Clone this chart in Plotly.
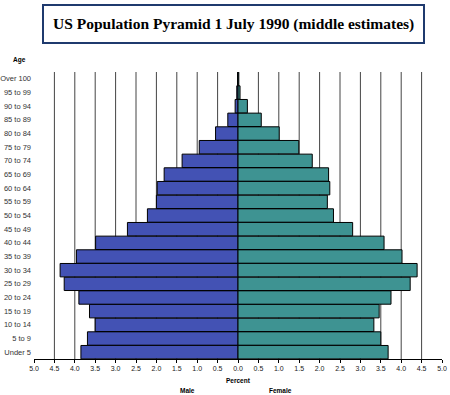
import plotly.graph_objects as go

age_groups = ["Under 5", "5 to 9", "10 to 14", "15 to 19", "20 to 24", "25 to 29",
              "30 to 34", "35 to 39", "40 to 44", "45 to 49", "50 to 54", "55 to 59",
              "60 to 64", "65 to 69", "70 to 74", "75 to 79", "80 to 84", "85 to 89",
              "90 to 94", "95 to 99", "Over 100"]
male_pct = [3.85, 3.69, 3.50, 3.64, 3.90, 4.26, 4.36, 3.96, 3.49, 2.71, 2.22, 2.00,
            1.98, 1.81, 1.37, 0.95, 0.55, 0.25, 0.07, 0.03, 0.01]
female_pct = [3.68, 3.50, 3.33, 3.46, 3.75, 4.22, 4.39, 4.02, 3.58, 2.81, 2.34, 2.19,
              2.25, 2.22, 1.82, 1.49, 1.01, 0.57, 0.23, 0.05, 0.02]
tick_vals = [i * 0.5 for i in range(-10, 11)]
tick_text = ["%.1f" % abs(v) for v in tick_vals]

fig = go.Figure()
fig.add_trace(go.Bar(y=age_groups, x=[-v for v in male_pct], orientation="h",
                     name="Male", marker=dict(color="#4352B4", line=dict(color="#000000", width=1))))
fig.add_trace(go.Bar(y=age_groups, x=female_pct, orientation="h",
                     name="Female", marker=dict(color="#3E9392", line=dict(color="#000000", width=1))))

shapes = []
for v in tick_vals:
    if v == 0 or abs(v) == 5:
        continue
    shapes.append(dict(type="line", xref="x", yref="paper", x0=v, x1=v, y0=0, y1=1,
                       line=dict(color="#444444", width=1), layer="below"))

fig.update_layout(
    width=450, height=395,
    margin=dict(l=34, r=8, t=72, b=36),
    paper_bgcolor="white", plot_bgcolor="white",
    barmode="overlay", bargap=0.02, showlegend=False,
    shapes=shapes,
    xaxis=dict(range=[-5, 5], tickvals=tick_vals, ticktext=tick_text, showgrid=False,
               zeroline=False, showline=True, linecolor="#000000", linewidth=1,
               ticks="outside", ticklen=3, tickcolor="#000000", automargin=False,
               tickfont=dict(family="Arial", size=7, color="#222222"), fixedrange=True),
    yaxis=dict(showgrid=False, showline=False, zeroline=False, ticks="", automargin=False,
               ticklabelstandoff=2,
               tickfont=dict(family="Arial", size=7.5, color="#333333"),
               categoryorder="array", categoryarray=age_groups, fixedrange=True),
    annotations=[
        dict(text="<b>US Population Pyramid 1 July 1990 (middle estimates)</b>",
             xref="paper", yref="paper", x=0.49, y=1.098, xanchor="center", yanchor="bottom",
             showarrow=False, font=dict(family="Liberation Serif", size=15.5, color="#000000"),
             bordercolor="#1F3A6E", borderwidth=2, borderpad=9, bgcolor="white"),
        dict(text="<b>Age</b>", xref="paper", yref="paper", x=-0.035, y=1.02,
             xanchor="center", yanchor="bottom", showarrow=False,
             font=dict(family="Arial", size=6.5, color="#000000")),
        dict(text="<b>Percent</b>", xref="paper", yref="paper", x=0.5, y=-0.055,
             xanchor="center", yanchor="top", showarrow=False,
             font=dict(family="Arial", size=6.5, color="#000000")),
        dict(text="<b>Male</b>", xref="paper", yref="paper", x=0.376, y=-0.09,
             xanchor="center", yanchor="top", showarrow=False,
             font=dict(family="Arial", size=6.5, color="#000000")),
        dict(text="<b>Female</b>", xref="paper", yref="paper", x=0.605, y=-0.09,
             xanchor="center", yanchor="top", showarrow=False,
             font=dict(family="Arial", size=6.5, color="#000000")),
    ],
)

# remove the default 8px page margin so the figure sits at the window's corner
fig.write_html("out.html", config={"displayModeBar": False},
               post_script="document.body.style.margin='0';")
